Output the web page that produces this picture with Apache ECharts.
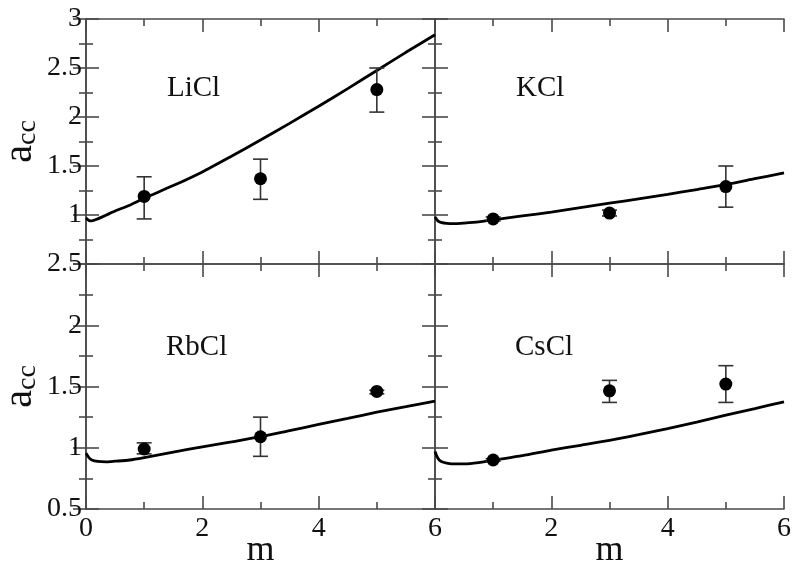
<!DOCTYPE html>
<html>
<head>
<meta charset="utf-8">
<script src="https://cdn.jsdelivr.net/npm/echarts@6/dist/echarts.min.js"></script>
<style>
  html, body { margin: 0; padding: 0; background: #fff; }
  #main { width: 800px; height: 570px; }
</style>
</head>
<body>
<div id="main"></div>
<script>
// model curves (m on x axis)
const mCurve = [0, 0.05, 0.1, 0.2, 0.35, 0.5, 0.75, 1, 1.5, 2, 2.5, 3, 3.5, 4, 4.5, 5, 5.5, 6]
const curveLiCl = [0.97, 0.945, 0.94, 0.96, 1.0, 1.04, 1.10, 1.17, 1.30, 1.44, 1.60, 1.765, 1.935, 2.11, 2.29, 2.475, 2.66, 2.84]
const curveKCl = [0.98, 0.94, 0.925, 0.915, 0.913, 0.918, 0.93, 0.95, 0.99, 1.03, 1.075, 1.12, 1.165, 1.21, 1.26, 1.31, 1.37, 1.43]
const curveRbCl = [0.955, 0.92, 0.9, 0.888, 0.885, 0.89, 0.90, 0.92, 0.965, 1.007, 1.048, 1.09, 1.14, 1.19, 1.24, 1.29, 1.335, 1.38]
const curveCsCl = [0.97, 0.915, 0.89, 0.875, 0.868, 0.868, 0.878, 0.898, 0.935, 0.98, 1.02, 1.06, 1.107, 1.157, 1.21, 1.266, 1.32, 1.375]

// experimental points with error bars
const mExp = [1, 3, 5]
const expLiCl = [1.19, 1.37, 2.28]
const loLiCl = [0.96, 1.16, 2.05]
const hiLiCl = [1.39, 1.57, 2.50]
const expKCl = [0.96, 1.02, 1.29]
const loKCl = [0.94, 0.99, 1.08]
const hiKCl = [0.98, 1.05, 1.50]
const expRbCl = [0.99, 1.09, 1.46]
const loRbCl = [0.95, 0.93, 1.44]
const hiRbCl = [1.04, 1.25, 1.47]
const expCsCl = [0.90, 1.465, 1.52]
const loCsCl = [0.89, 1.37, 1.37]
const hiCsCl = [0.91, 1.55, 1.67]

const salts = ['LiCl', 'KCl', 'RbCl', 'CsCl']
const yMax = [3, 3, 2.5, 2.5]

const curves = [curveLiCl, curveKCl, curveRbCl, curveCsCl]
const exps = [expLiCl, expKCl, expRbCl, expCsCl]
const los = [loLiCl, loKCl, loRbCl, loCsCl]
const his = [hiLiCl, hiKCl, hiRbCl, hiCsCl]

const FONT = 'Liberation Serif'
const frame = '#4a4a4a'

// grids fixed in pixels, no auto shrinking to fit labels
const grids = [
  { left: 86, top: 19, width: 349, height: 245, outerBoundsMode: 'none' },
  { left: 435, top: 19, width: 349, height: 245, outerBoundsMode: 'none' },
  { left: 86, top: 264, width: 349, height: 245, outerBoundsMode: 'none' },
  { left: 435, top: 264, width: 349, height: 245, outerBoundsMode: 'none' }
]

const xAxes = []
const yAxes = []
grids.forEach((g, i) => {
  const bottomRow = i >= 2
  const leftCol = i % 2 === 0
  const base = {
    gridIndex: i,
    type: 'value',
    axisLine: { lineStyle: { color: frame, width: 1.6 } },
    axisTick: { inside: true, length: 13, lineStyle: { color: frame, width: 1.6 } },
    minorTick: { show: true, splitNumber: 2, length: 7, lineStyle: { color: frame, width: 1.6 } },
    splitLine: { show: false }
  }
  // bottom x axis
  xAxes.push(Object.assign({}, base, {
    position: 'bottom', min: 0, max: 6, interval: 2,
    axisLabel: {
      show: bottomRow, showMinLabel: leftCol, margin: 6,
      color: '#111', fontFamily: FONT, fontSize: 28
    },
    name: bottomRow ? 'm' : '',
    nameLocation: 'middle', nameGap: 24, nameMoveOverlap: false,
    nameTextStyle: { color: '#111', fontFamily: FONT, fontSize: 36 }
  }))
  // top x axis (mirror ticks)
  xAxes.push(Object.assign({}, base, {
    position: 'top', min: 0, max: 6, interval: 2,
    axisLabel: { show: false }
  }))
  // left y axis
  yAxes.push(Object.assign({}, base, {
    position: 'left', min: 0.5, max: yMax[i], interval: 0.5,
    axisLabel: {
      show: leftCol, showMinLabel: bottomRow, margin: 4,
      color: '#111', fontFamily: FONT, fontSize: 28
    },
    name: leftCol ? '{a|a}{s|cc}' : '',
    nameLocation: 'middle', nameRotate: 90, nameGap: 44, nameMoveOverlap: false,
    nameTextStyle: {
      rich: {
        a: { fontFamily: FONT, fontSize: 40, color: '#111' },
        s: { fontFamily: FONT, fontSize: 28, color: '#111', padding: [16, 0, 0, 0] }
      }
    }
  }))
  // right y axis (mirror ticks)
  yAxes.push(Object.assign({}, base, {
    position: 'right', min: 0.5, max: yMax[i], interval: 0.5,
    axisLabel: { show: false }
  }))
})

function renderErr(params, api) {
  const x = api.value(0)
  const top = api.coord([x, api.value(2)])
  const bot = api.coord([x, api.value(1)])
  const hw = 7.5
  const st = { stroke: '#333', lineWidth: 1.6 }
  return {
    type: 'group',
    children: [
      { type: 'line', shape: { x1: top[0], y1: top[1], x2: bot[0], y2: bot[1] }, style: st },
      { type: 'line', shape: { x1: top[0] - hw, y1: top[1], x2: top[0] + hw, y2: top[1] }, style: st },
      { type: 'line', shape: { x1: bot[0] - hw, y1: bot[1], x2: bot[0] + hw, y2: bot[1] }, style: st }
    ]
  }
}

const series = []
salts.forEach((s, i) => {
  series.push({
    type: 'line',
    xAxisIndex: i * 2,
    yAxisIndex: i * 2,
    data: mCurve.map((m, k) => [m, curves[i][k]]),
    smooth: 0.25,
    showSymbol: false,
    lineStyle: { color: '#000', width: 2.8 },
    animation: false,
    z: 3
  })
  series.push({
    type: 'custom',
    xAxisIndex: i * 2,
    yAxisIndex: i * 2,
    renderItem: renderErr,
    encode: { x: 0, y: [1, 2] },
    data: mExp.map((m, k) => [m, los[i][k], his[i][k]]),
    animation: false,
    z: 4
  })
  series.push({
    type: 'scatter',
    xAxisIndex: i * 2,
    yAxisIndex: i * 2,
    data: mExp.map((m, k) => [m, exps[i][k]]),
    symbol: 'circle',
    symbolSize: 13,
    itemStyle: { color: '#000', opacity: 1 },
    animation: false,
    z: 5
  })
})

const labelPos = [[167, 88], [516, 88], [166, 347], [515, 347]]

const chart = echarts.init(document.getElementById('main'))
chart.setOption({
  backgroundColor: '#fff',
  animation: false,
  grid: grids,
  xAxis: xAxes,
  yAxis: yAxes,
  series: series,
  graphic: salts.map((s, i) => ({
    type: 'text',
    x: labelPos[i][0],
    y: labelPos[i][1],
    style: {
      text: s,
      fill: '#111',
      font: '29px "Liberation Serif"',
      verticalAlign: 'middle'
    }
  }))
})
</script>
</body>
</html>
